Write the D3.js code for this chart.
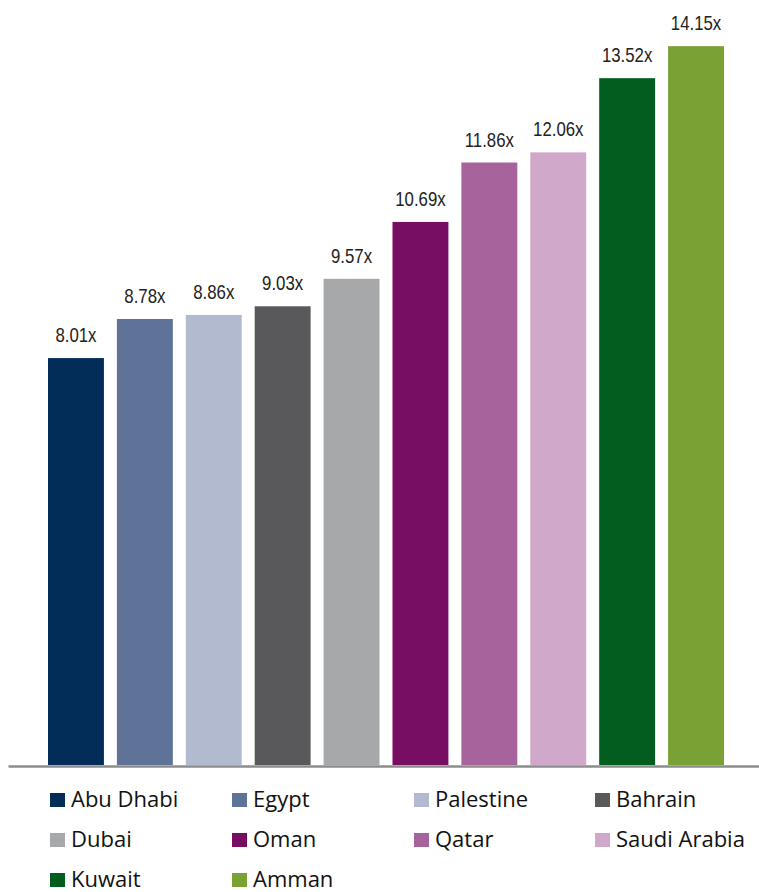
<!DOCTYPE html>
<html>
<head>
<meta charset="utf-8">
<script src="https://cdn.jsdelivr.net/npm/d3@7"></script>
<style>
	body { margin: 0; background: #fff; }
	svg { display: block; }
</style>
</head>
<body>
<div id="chart"></div>
<script>
const markets	= ["Abu Dhabi", "Egypt", "Palestine", "Bahrain", "Dubai", "Oman", "Qatar", "Saudi Arabia", "Kuwait", "Amman"];
const multiples	= [8.01, 8.78, 8.86, 9.03, 9.57, 10.69, 11.86, 12.06, 13.52, 14.15];
const palette	= ["#022d59", "#5f7399", "#b1bacf", "#59595b", "#a7a8aa", "#780e63", "#a7639b", "#d0a9ca", "#015e1f", "#7aa133"];

const canvasWidth	= 759;
const canvasHeight	= 892;
const baseline		= 765;

let svg = d3.select("#chart").append("svg")
	.attr("width", canvasWidth)
	.attr("height", canvasHeight);

let x		= d3.scaleBand().domain(markets).range([48, 724]).paddingInner(13 / 69).paddingOuter(0);
let y		= d3.scaleLinear().domain([0, 15]).range([baseline, 3]);
let colors	= d3.scaleOrdinal().domain(markets).range(palette);

let data = markets.map((m, i) => ({ market: m, value: multiples[i] }));

svg.append("g")
	.selectAll("rect")
	.data(data).enter()
	.append("rect")
		.attr("x", (o) => x(o.market))
		.attr("y", (o) => y(o.value))
		.attr("width", x.bandwidth())
		.attr("height", (o) => baseline - y(o.value))
		.attr("fill", (o) => colors(o.market));

// value labels, narrowed to look like the condensed original
svg.append("g")
	.selectAll("text")
	.data(data).enter()
	.append("text")
		.attr("transform", (o) => "translate(" + (x(o.market) + x.bandwidth() / 2) + "," + (y(o.value) - 16) + ") scale(0.84,1)")
		.attr("text-anchor", "middle")
		.attr("font-family", "'Liberation Sans', Arial, sans-serif")
		.attr("font-size", 20)
		.attr("fill", "#222")
		.text((o) => o.value.toFixed(2) + "x");

// baseline axis, no ticks
svg.append("g")
	.attr("transform", "translate(0," + (baseline + 1) + ")")
	.call(d3.axisBottom(d3.scaleLinear().range([8, 759])).ticks(0).tickSize(0).tickSizeOuter(0))
	.call((g) => g.select(".domain").attr("stroke", "#8c8c8c").attr("stroke-width", 2.5));

// legend, four columns
const colX = [50, 232, 414, 595];
let legend = svg.append("g")
	.selectAll("g")
	.data(markets).enter()
	.append("g")
		.attr("transform", (m, i) => "translate(" + colX[i % 4] + "," + (793 + Math.floor(i / 4) * 40) + ")");

legend.append("rect")
	.attr("width", 15)
	.attr("height", 14)
	.attr("fill", (m) => colors(m));

legend.append("text")
	.attr("x", 21)
	.attr("y", 14)
	.attr("font-family", "'Open Sans', sans-serif")
	.attr("font-size", 22)
	.attr("fill", "#111")
	.text((m) => m);
</script>
</body>
</html>
